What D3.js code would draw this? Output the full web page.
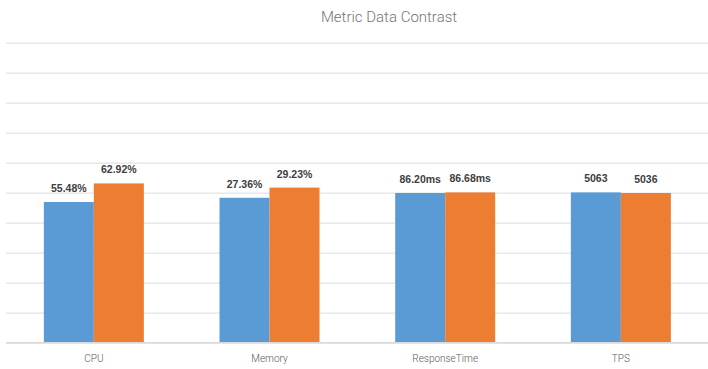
<!DOCTYPE html>
<html>
<head>
<meta charset="utf-8">
<script src="https://cdn.jsdelivr.net/npm/d3@7/dist/d3.min.js"></script>
<style>
  html, body { margin: 0; padding: 0; background: #fff; }
  svg { display: block; }
</style>
</head>
<body>
<svg id="chart" width="708" height="369"></svg>
<script>
// ---- data ----
const categories = ["CPU", "Memory", "ResponseTime", "TPS"];
const seriesA = [46.9, 48.3, 49.9, 50.1];   // blue (share of pair, %)
const seriesB = [53.1, 51.7, 50.1, 49.9];   // orange
const labelsA = ["55.48%", "27.36%", "86.20ms", "5063"];
const labelsB = ["62.92%", "29.23%", "86.68ms", "5036"];
const yTicks = [0, 10, 20, 30, 40, 50, 60, 70, 80, 90, 100];
const titleText = "Metric Data Contrast";
const colors = ["#5b9bd5", "#ed7d31"];

// ---- layout ----
const svg = d3.select("#chart");
const mLeft = 6, mRight = 708.7, mTop = 42.7, mBottom = 342.7;

const x = d3.scaleBand().domain(categories).range([mLeft, mRight]).padding(0);
const inner = d3.scaleBand().domain([0, 1]).range([0, 100]).padding(0);
const y = d3.scaleLinear().domain([0, 100]).range([mBottom, mTop]);

// gridlines
const yAxis = d3.axisLeft(y).tickValues(yTicks).tickSize(-(708 - mLeft)).tickFormat("");
const gy = svg.append("g").attr("transform", `translate(${mLeft},0)`).call(yAxis);
gy.select(".domain").remove();
gy.selectAll(".tick line").attr("stroke", "#e3e3e3").attr("stroke-width", 1.3);

// bars
const rows = categories.map((c, i) => ({ c, vals: [seriesA[i], seriesB[i]], labs: [labelsA[i], labelsB[i]] }));
const groups = svg.append("g").selectAll("g").data(rows).join("g")
  .attr("transform", d => `translate(${x(d.c) + x.bandwidth() / 2 - 50},0)`);

groups.selectAll("rect").data(d => d.vals.map((v, k) => ({ v, k })))
  .join("rect")
  .attr("x", d => inner(d.k))
  .attr("width", inner.bandwidth())
  .attr("y", d => y(d.v))
  .attr("height", d => y(0) - y(d.v))
  .attr("fill", d => colors[d.k]);

groups.selectAll("text").data(d => d.labs.map((t, k) => ({ t, k, v: d.vals[k] })))
  .join("text")
  .attr("x", d => inner(d.k) + inner.bandwidth() / 2)
  .attr("y", d => y(d.v) - 10)
  .attr("text-anchor", "middle")
  .attr("font-family", "Liberation Sans, Arial, sans-serif")
  .attr("font-weight", "bold")
  .attr("font-size", "10.5px")
  .attr("fill", "#404040")
  .text(d => d.t);

// baseline axis
const xAxis = d3.axisBottom(x).tickSize(0).tickPadding(12);
const gx = svg.append("g").attr("transform", `translate(0,${mBottom})`).call(xAxis);
gx.select(".domain").attr("stroke", "#d9d9d9").attr("stroke-width", 1.5)
  .attr("d", `M${mLeft},0H708`);
gx.selectAll(".tick text")
  .attr("font-family", "Roboto, sans-serif")
  .attr("font-weight", 300)
  .attr("font-size", "10px")
  .attr("fill", "#595959");

// title
svg.append("text")
  .attr("x", 389).attr("y", 22)
  .attr("text-anchor", "middle")
  .attr("font-family", "Roboto, sans-serif")
  .attr("font-weight", 300)
  .attr("font-size", "15px")
  .attr("fill", "#757575")
  .text(titleText);
</script>
</body>
</html>
